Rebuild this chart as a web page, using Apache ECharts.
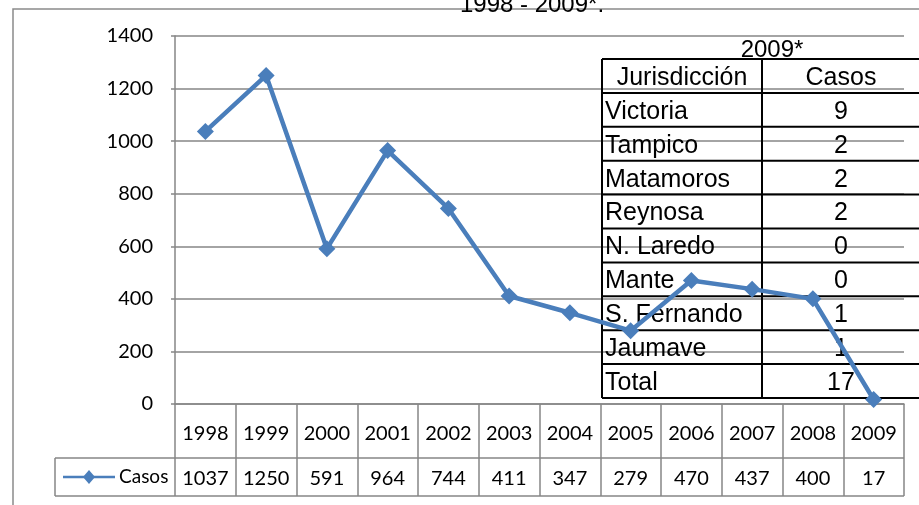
<!DOCTYPE html>
<html>
<head>
<meta charset="utf-8">
<script src="https://cdn.jsdelivr.net/npm/echarts@6/dist/echarts.min.js"></script>
<style>
html,body{margin:0;padding:0;background:#fff;}
#c{width:919px;height:505px;}
</style>
</head>
<body>
<div id="c"></div>
<script>
const years = ['1998','1999','2000','2001','2002','2003','2004','2005','2006','2007','2008','2009'];
const casos = [1037,1250,591,964,744,411,347,279,470,437,400,17];
const jurisdicciones = ['Victoria','Tampico','Matamoros','Reynosa','N. Laredo','Mante','S. Fernando','Jaumave','Total'];
const casos2009 = [9,2,2,2,0,0,1,1,17];
const tableHeader = ['Jurisdicción','Casos'];
const insetTitle = '2009*';
const chartTitle = '1998 - 2009*.';
const seriesName = 'Casos';

const BLUE = '#4a7ebb';
const GRID = '#868686';
const gridLeft = 175, gridRight = 15, gridTop = 36, gridBottom = 101;
const W = 919, H = 505;
const axisY = H - gridBottom;       // 404
const row1 = axisY + 54;            // 458
const row2 = axisY + 92;            // 496
const legendLeft = 55;
const rightEdge = W - gridRight;

const chart = echarts.init(document.getElementById('c'), null, {renderer:'canvas'});

// inset table graphics
const tX0 = 602, tX1 = 762, tX2 = 919, tY0 = 59, tRow = 33.9;
const inset = [];
const nRows = jurisdicciones.length + 1;
for (let k = 0; k <= nRows; k++) {
  inset.push({type:'line', shape:{x1:tX0, y1:tY0 + k*tRow, x2:tX2, y2:tY0 + k*tRow}, style:{stroke:'#000', lineWidth:2}, z:1});
}
[tX0, tX1].forEach(x => inset.push({type:'line', shape:{x1:x, y1:tY0, x2:x, y2:tY0 + nRows*tRow}, style:{stroke:'#000', lineWidth:2}, z:1}));
const tFont = '25px "Liberation Sans", Arial, sans-serif';
const dy = 2;
inset.push({type:'text', x:772, y:tY0 + 3, style:{text:insetTitle, font:'24px "Liberation Sans", Arial, sans-serif', fill:'#000', align:'center', verticalAlign:'bottom'}, z:1});
inset.push({type:'text', x:(tX0+tX1)/2, y:tY0 + tRow/2 + dy, style:{text:tableHeader[0], font:tFont, fill:'#000', align:'center', verticalAlign:'middle'}, z:1});
inset.push({type:'text', x:841, y:tY0 + tRow/2 + dy, style:{text:tableHeader[1], font:tFont, fill:'#000', align:'center', verticalAlign:'middle'}, z:1});
jurisdicciones.forEach((j, i) => {
  const cy = tY0 + (i+1)*tRow + tRow/2 + dy;
  inset.push({type:'text', x:tX0 + 3, y:cy, style:{text:j, font:tFont, fill:'#000', align:'left', verticalAlign:'middle'}, z:1});
  inset.push({type:'text', x:841, y:cy, style:{text:String(casos2009[i]), font:tFont, fill:'#000', align:'center', verticalAlign:'middle'}, z:1});
});

const labFont = 'Lato, "Open Sans", sans-serif';
const legY = (row1 + row2) / 2;

const graphics = [
  // outer chart border
  {type:'polyline', shape:{points:[[13,H],[13,9],[W,9]]}, style:{stroke:'#8a8a8a', lineWidth:1.5, fill:null}, z:0},
  // title (clipped at top)
  {type:'text', x:532, y:17, style:{text:chartTitle, font:'24px "Liberation Sans", Arial, sans-serif', fill:'#000', align:'center', verticalAlign:'bottom'}, z:1},
  // data table lines
  {type:'line', shape:{x1:legendLeft, y1:row1, x2:rightEdge, y2:row1}, style:{stroke:GRID, lineWidth:1.5}, z:1},
  {type:'line', shape:{x1:legendLeft, y1:row2, x2:rightEdge, y2:row2}, style:{stroke:GRID, lineWidth:1.5}, z:1},
  {type:'line', shape:{x1:legendLeft, y1:row1, x2:legendLeft, y2:row2}, style:{stroke:GRID, lineWidth:1.5}, z:1},
  // legend key
  {type:'line', shape:{x1:63, y1:legY, x2:115, y2:legY}, style:{stroke:BLUE, lineWidth:2.5}, z:2},
  {type:'polygon', shape:{points:[[89,legY-7],[95,legY],[89,legY+7],[83,legY]]}, style:{fill:BLUE}, z:2},
  {type:'text', x:119, y:legY, style:{text:seriesName, font:'19px ' + labFont, fill:'#000', align:'left', verticalAlign:'middle'}, z:2}
].concat(inset);

chart.setOption({
  animation:false,
  backgroundColor:'#fff',
  grid:{left:gridLeft, right:gridRight, top:gridTop, bottom:gridBottom},
  xAxis:{
    type:'category',
    data:years,
    boundaryGap:true,
    axisLine:{show:true, lineStyle:{color:GRID, width:1.5}},
    axisTick:{show:true, length:92, alignWithLabel:false, lineStyle:{color:GRID, width:1.5}},
    axisLabel:{
      margin:4,
      interval:0,
      formatter:(v, i) => '{y|' + v + '}\n{v|' + casos[i] + '}',
      rich:{
        y:{fontFamily:labFont, fontSize:20, color:'#000', lineHeight:52, align:'center'},
        v:{fontFamily:labFont, fontSize:20, color:'#000', lineHeight:38, align:'center'}
      }
    }
  },
  yAxis:{
    type:'value',
    min:0, max:1400, interval:200,
    axisLine:{show:true, lineStyle:{color:GRID, width:1.5}},
    axisTick:{show:true, length:4, lineStyle:{color:GRID, width:1.5}},
    splitLine:{show:true, lineStyle:{color:GRID, width:1.5}},
    axisLabel:{margin:22, fontFamily:labFont, fontSize:20, color:'#000', formatter:v => String(v)}
  },
  series:[{
    name:seriesName,
    type:'line',
    data:casos,
    z:5,
    symbol:'diamond',
    symbolSize:17,
    lineStyle:{color:BLUE, width:4.5},
    itemStyle:{color:BLUE}
  }],
  graphic:graphics
});
</script>
</body>
</html>
